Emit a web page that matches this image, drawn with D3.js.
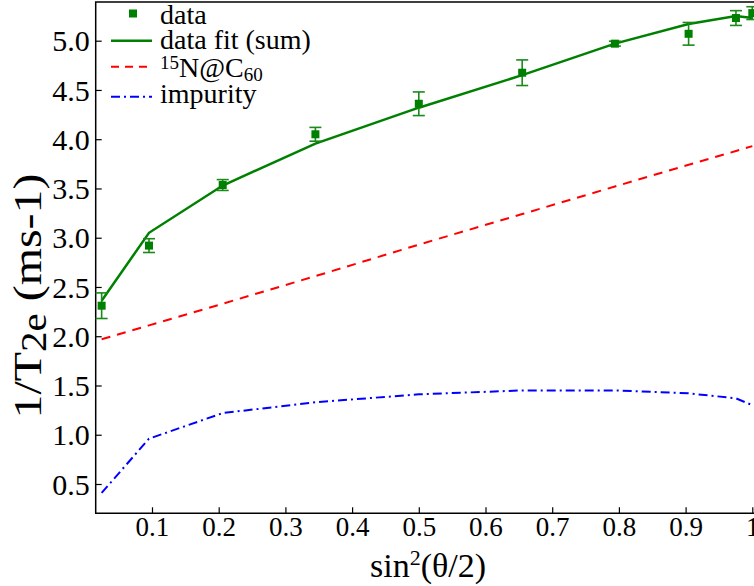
<!DOCTYPE html>
<html>
<head>
<meta charset="utf-8">
<script src="https://cdn.jsdelivr.net/npm/d3@7"></script>
<style>
  body { margin: 0; background: #fff; }
  text { font-family: "Liberation Serif", "Times New Roman", serif; fill: #000; }
</style>
</head>
<body>
<div id="chart"></div>
<script>
// sin^2(theta/2) sample points
var xs = [0.0245, 0.0955, 0.206, 0.345, 0.5, 0.655, 0.794, 0.9045, 0.9755, 1.0];
// measured 1/T2e and its error
var data = [2.31, 2.92, 3.535, 4.05, 4.36, 4.675, 4.97, 5.07, 5.23, 5.28];
var err = [0.13, 0.07, 0.055, 0.07, 0.12, 0.13, 0.025, 0.115, 0.075, 0.065];
// fitted curves
var fit = [2.36, 3.05, 3.53, 3.955, 4.32, 4.65, 4.97, 5.17, 5.25, 5.23];
var n15 = [1.97, 2.11, 2.33, 2.61, 2.93, 3.24, 3.52, 3.74, 3.88, 3.93];
var impurity = [0.41, 0.96, 1.22, 1.33, 1.41, 1.45, 1.45, 1.42, 1.37, 1.30];

var xTicks = [0.1, 0.2, 0.3, 0.4, 0.5, 0.6, 0.7, 0.8, 0.9, 1];
var yTicks = [0.5, 1.0, 1.5, 2.0, 2.5, 3.0, 3.5, 4.0, 4.5, 5.0];

createchart();

function createchart() {
  var width = 754;
  var height = 586;
  var left = 95.7, right = 754, top = 2, bottom = 513.3;

  var svg = d3.select("#chart").append("svg")
    .attr("width", width)
    .attr("height", height);

  svg.append("rect")
    .attr("width", width).attr("height", height).attr("fill", "#fff");

  var x = d3.scaleLinear().domain([0.0156, 1.0]).range([left, 752.3]);
  var y = d3.scaleLinear().domain([0.5, 5.0]).range([484, 40.7]);

  // frame
  svg.append("path")
    .attr("d", "M" + right + "," + top + " H" + left + " V" + bottom + " H" + right)
    .attr("fill", "none").attr("stroke", "#000").attr("stroke-width", 1.5);

  // x axis ticks (inward)
  var xAxis = d3.axisBottom(x).tickValues(xTicks).tickSize(-6).tickPadding(10)
    .tickFormat(function (d) { return d === 1 ? "1" : d3.format(".1f")(d); });
  var gx = svg.append("g").attr("transform", "translate(0," + bottom + ")").call(xAxis)
    .attr("font-family", null).attr("font-size", null);
  gx.select(".domain").remove();
  gx.selectAll(".tick line").attr("stroke", "#000").attr("stroke-width", 1.2);
  gx.selectAll(".tick text")
    .attr("y", 23).attr("dy", null)
    .style("font-size", "27px").attr("fill", "#000");

  var yAxis = d3.axisLeft(y).tickValues(yTicks).tickSize(-6).tickPadding(7)
    .tickFormat(d3.format(".1f"));
  var gy = svg.append("g").attr("transform", "translate(" + left + ",0)").call(yAxis)
    .attr("font-family", null).attr("font-size", null);
  gy.select(".domain").remove();
  gy.selectAll(".tick line").attr("stroke", "#000").attr("stroke-width", 1.2);
  gy.selectAll(".tick text")
    .attr("x", -6).attr("dy", "0.34em")
    .style("font-size", "30px").attr("fill", "#000");

  // axis titles
  var xt = svg.append("text")
    .attr("x", 428).attr("y", 577)
    .attr("text-anchor", "middle")
    .style("font-size", "34px");
  xt.append("tspan").text("sin");
  xt.append("tspan").attr("dy", -12).style("font-size", "22px").text("2");
  xt.append("tspan").attr("dy", 12).text("(θ/2)");

  var yt = svg.append("text")
    .attr("transform", "translate(41,296) rotate(-90)")
    .attr("text-anchor", "middle")
    .attr("textLength", 245)
    .attr("lengthAdjust", "spacingAndGlyphs")
    .style("font-size", "41px");
  yt.append("tspan").text("1/T");
  yt.append("tspan").attr("dy", 5).style("font-size", "35px").text("2e");
  yt.append("tspan").attr("dy", -5).text(" (ms-1)");

  var pts = xs.map(function (d, i) {
    return { x: d, v: data[i], e: err[i], fit: fit[i], n: n15[i], imp: impurity[i] };
  });

  var plot = svg.append("g");

  plot.append("path").datum(pts)
    .attr("fill", "none").attr("stroke", "#0000ff").attr("stroke-width", 2)
    .attr("stroke-dasharray", "9,4,2,4")
    .attr("d", d3.line().x(function (d) { return x(d.x); }).y(function (d) { return y(d.imp); }));

  plot.append("path").datum(pts)
    .attr("fill", "none").attr("stroke", "#ff0000").attr("stroke-width", 2)
    .attr("stroke-dasharray", "9,7")
    .attr("d", d3.line().x(function (d) { return x(d.x); }).y(function (d) { return y(d.n); }));

  plot.append("path").datum(pts)
    .attr("fill", "none").attr("stroke", "#008000").attr("stroke-width", 2.5)
    .attr("d", d3.line().x(function (d) { return x(d.x); }).y(function (d) { return y(d.fit); }));

  // error bars
  var eb = plot.selectAll(".eb").data(pts).enter().append("g")
    .attr("stroke", "#1a8a1a").attr("stroke-width", 1.6);
  eb.append("line")
    .attr("x1", function (d) { return x(d.x); }).attr("x2", function (d) { return x(d.x); })
    .attr("y1", function (d) { return y(d.v - d.e); }).attr("y2", function (d) { return y(d.v + d.e); });
  eb.append("line")
    .attr("x1", function (d) { return x(d.x) - 6; }).attr("x2", function (d) { return x(d.x) + 6; })
    .attr("y1", function (d) { return y(d.v + d.e); }).attr("y2", function (d) { return y(d.v + d.e); });
  eb.append("line")
    .attr("x1", function (d) { return x(d.x) - 6; }).attr("x2", function (d) { return x(d.x) + 6; })
    .attr("y1", function (d) { return y(d.v - d.e); }).attr("y2", function (d) { return y(d.v - d.e); });

  plot.selectAll(".pt").data(pts).enter().append("rect")
    .attr("x", function (d) { return x(d.x) - 4; })
    .attr("y", function (d) { return y(d.v) - 4; })
    .attr("width", 8).attr("height", 8)
    .attr("fill", "#008000");

  // legend
  var lg = svg.append("g");
  lg.append("rect").attr("x", 129).attr("y", 9.5).attr("width", 8).attr("height", 8).attr("fill", "#008000");
  lg.append("line").attr("x1", 111).attr("x2", 152).attr("y1", 40.7).attr("y2", 40.7)
    .attr("stroke", "#008000").attr("stroke-width", 2.5);
  lg.append("line").attr("x1", 111).attr("x2", 152).attr("y1", 66.7).attr("y2", 66.7)
    .attr("stroke", "#ff0000").attr("stroke-width", 2).attr("stroke-dasharray", "8,6");
  lg.append("line").attr("x1", 111).attr("x2", 152).attr("y1", 96.7).attr("y2", 96.7)
    .attr("stroke", "#0000ff").attr("stroke-width", 2).attr("stroke-dasharray", "9,4,2,4");

  lg.append("text").attr("x", 160).attr("y", 24).style("font-size", "28px").text("data");
  lg.append("text").attr("x", 160).attr("y", 48.5).style("font-size", "28px").text("data fit (sum)");
  var t3 = lg.append("text").attr("x", 160).attr("y", 77.3).style("font-size", "28px");
  t3.append("tspan").attr("dy", -8).style("font-size", "19px").text("15");
  t3.append("tspan").attr("dy", 8).text("N@C");
  t3.append("tspan").attr("dy", 4).style("font-size", "19px").text("60");
  lg.append("text").attr("x", 160).attr("y", 102.7).style("font-size", "28px").text("impurity");
}
</script>
</body>
</html>
